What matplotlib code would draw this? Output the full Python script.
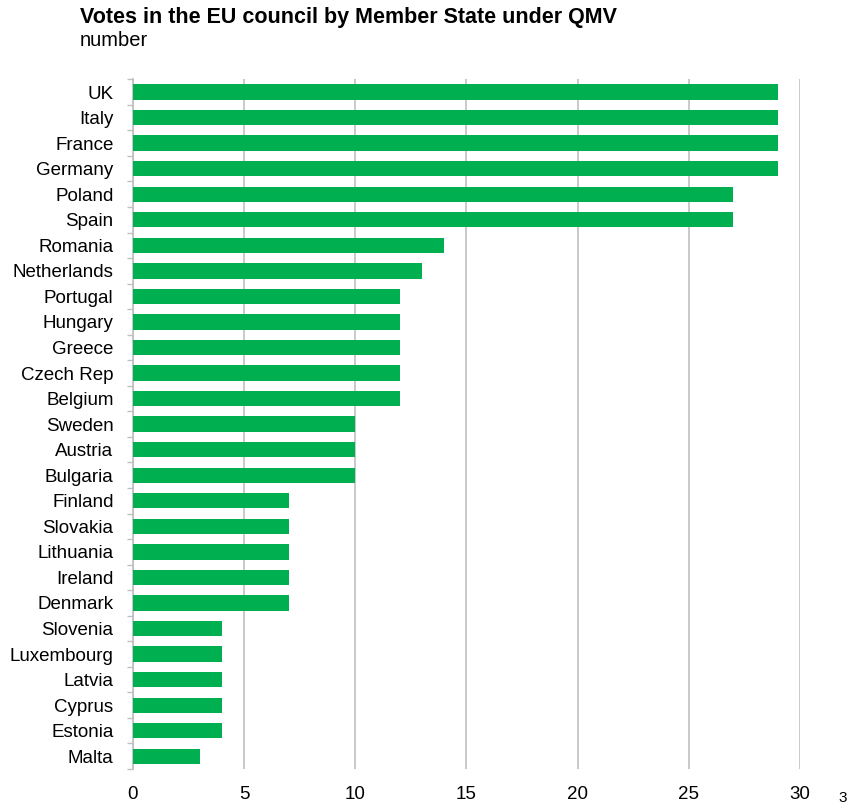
import numpy as np
import matplotlib.pyplot as plt

countries = ['UK', 'Italy', 'France', 'Germany', 'Poland', 'Spain', 'Romania',
             'Netherlands', 'Portugal', 'Hungary', 'Greece', 'Czech Rep', 'Belgium',
             'Sweden', 'Austria', 'Bulgaria', 'Finland', 'Slovakia', 'Lithuania',
             'Ireland', 'Denmark', 'Slovenia', 'Luxembourg', 'Latvia', 'Cyprus',
             'Estonia', 'Malta']
votes = [29, 29, 29, 29, 27, 27, 14, 13, 12, 12, 12, 12, 12, 10, 10, 10,
         7, 7, 7, 7, 7, 4, 4, 4, 4, 4, 3]
xticks = [0, 5, 10, 15, 20, 25, 30]

plt.rcParams['font.family'] = ['Liberation Sans', 'DejaVu Sans']

fig = plt.figure(figsize=(8.54, 8.09), dpi=100)
ax = fig.add_axes([0.1557, 0.0494, 0.7811, 0.8526])

y = np.arange(len(countries))
ax.barh(y, votes, height=0.6, color='#00B050', zorder=3)
ax.set_ylim(len(countries) - 0.5, -0.5)
ax.set_xlim(0, 30)
ax.set_yticks(y)
ax.set_yticklabels(countries, fontsize=13.5)
ax.set_yticks(np.arange(len(countries) + 1) - 0.5, minor=True)
ax.tick_params(axis='y', which='major', length=0, pad=14)
ax.tick_params(axis='y', which='minor', length=4, color='#BFBFBF', width=1)
ax.set_xticks(xticks)
ax.set_xticklabels([str(t) for t in xticks], fontsize=13.5)
ax.tick_params(axis='x', length=0, pad=12)
ax.xaxis.grid(True, color='#C0C0C0', linewidth=1.2, zorder=0)

for s in ['top', 'right', 'bottom']:
    ax.spines[s].set_visible(False)
ax.spines['left'].set_color('#BFBFBF')
ax.spines['left'].set_linewidth(1.2)

fig.text(80 / 854, 1 - 17 / 809, 'Votes in the EU council by Member State under QMV',
         fontsize=15.5, fontweight='bold', va='center', ha='left')
fig.text(80 / 854, 1 - 40 / 809, 'number', fontsize=14.5, va='center', ha='left')
fig.text(843 / 854, 1 - 798 / 809, '3', fontsize=11, va='center', ha='center')

fig.savefig('out.png', dpi=100)
